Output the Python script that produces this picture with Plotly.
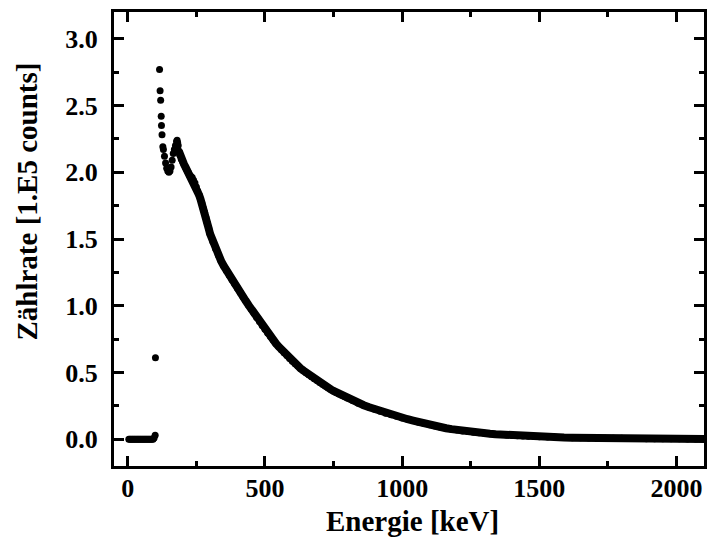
import plotly.graph_objects as go

# Energy [keV] and counting rate [1.E5 counts]
energy = [
    4, 8, 12, 16, 20, 24, 28, 32, 36, 40, 44, 48, 52, 56, 60, 64, 68, 72, 76, 80, 84, 88, 92, 96, 100, 101,
    116, 118, 120, 122, 123, 125, 128, 130, 134, 138, 142, 146, 150, 154, 158, 162, 166, 170, 174, 176, 178,
    180, 182, 184, 186, 190, 195, 200, 205, 210, 215, 220, 225, 230, 235, 240, 245, 250, 255, 260, 265, 270,
    275, 280, 285, 290, 295, 300, 310, 320, 330, 340, 350,
    360, 370, 380, 390, 400, 410, 420, 430, 440, 450, 460, 470, 480, 490, 500, 510, 520, 530, 540, 550,
    560, 570, 580, 590, 600, 610, 620, 630, 640, 650, 660, 670, 680, 690, 700, 710, 720, 730, 740, 750,
    760, 770, 780, 790, 800,
    820, 840, 860, 880, 900, 920, 940, 960, 980, 1000, 1020, 1040, 1060, 1080, 1100, 1120, 1140, 1160,
    1180, 1200, 1220, 1240, 1260, 1280, 1300, 1320, 1340, 1360, 1380, 1400, 1420, 1440, 1460, 1480, 1500,
    1530, 1560, 1590, 1620, 1650, 1680, 1710, 1740, 1770, 1800, 1830, 1860, 1890, 1920, 1950, 1980, 2010,
    2040, 2070, 2100,
]

rate = [
    0.0, 0.0, 0.0, 0.0, 0.0, 0.0, 0.0, 0.0, 0.0, 0.0, 0.0, 0.0, 0.0, 0.0, 0.0, 0.0, 0.0, 0.0, 0.0, 0.0,
    0.0, 0.0, 0.0, 0.01, 0.03, 0.61,
    2.77, 2.61, 2.54, 2.42, 2.35, 2.28, 2.19, 2.17, 2.12, 2.07, 2.03, 2.01, 2.00, 2.01, 2.04, 2.09, 2.14,
    2.17, 2.20, 2.19, 2.23, 2.24, 2.22, 2.20, 2.16, 2.13, 2.10, 2.08, 2.06, 2.04, 2.02, 2.00, 1.98, 1.97,
    1.96, 1.94, 1.92, 1.89, 1.86, 1.83, 1.80, 1.77, 1.73, 1.70, 1.66, 1.62, 1.58, 1.54, 1.482, 1.428,
    1.38, 1.337, 1.298,
    1.262, 1.228, 1.195, 1.163, 1.131, 1.099, 1.068, 1.037, 1.006, 0.975, 0.944, 0.913, 0.883, 0.853,
    0.824, 0.796, 0.769, 0.743, 0.718, 0.694, 0.671, 0.649, 0.628, 0.606, 0.585, 0.566, 0.548, 0.531,
    0.515, 0.499, 0.484, 0.469, 0.454, 0.440, 0.425, 0.412, 0.399, 0.386, 0.374, 0.362, 0.351, 0.340,
    0.330, 0.320, 0.310,
    0.29, 0.27, 0.255, 0.24, 0.225, 0.21, 0.195, 0.183, 0.172, 0.16, 0.15, 0.14, 0.128, 0.118, 0.108,
    0.099, 0.091, 0.083, 0.076, 0.069, 0.063, 0.058, 0.053, 0.049, 0.045, 0.041, 0.038, 0.035, 0.032,
    0.029, 0.027, 0.025, 0.023, 0.021, 0.019,
    0.017, 0.015, 0.013, 0.012, 0.011, 0.010, 0.009, 0.008, 0.007, 0.007, 0.006, 0.006, 0.005, 0.005,
    0.004, 0.004, 0.004, 0.003, 0.003, 0.003,
]

x_range = [-50, 2100]
y_range = [-0.2, 3.2]

x_title = "Energie [keV]"
y_title = "Zählrate [1.E5 counts]"

FONT = "Liberation Serif"

# index from which the measured points form a continuous dense band
BAND_START = energy.index(186)

fig = go.Figure()
fig.add_trace(
    go.Scatter(
        x=energy[BAND_START:], y=rate[BAND_START:], mode="lines",
        line=dict(color="black", width=8),
        showlegend=False, hoverinfo="skip",
    )
)
fig.add_trace(
    go.Scatter(
        x=energy, y=rate, mode="markers",
        marker=dict(color="black", size=7, line=dict(width=0)),
        showlegend=False, hoverinfo="skip",
    )
)

axis_common = dict(
    showline=True, linecolor="black", linewidth=3, mirror="allticks",
    ticks="inside", tickwidth=3, ticklen=10, tickcolor="black",
    showgrid=False, zeroline=False,
    tickfont=dict(family=FONT, size=26, color="black", weight="bold"),
)

fig.update_xaxes(
    range=x_range, tick0=0, dtick=500,
    minor=dict(ticks="inside", dtick=250, ticklen=5, tickwidth=3, tickcolor="black", showgrid=False),
    ticklabelstandoff=-3,
    **axis_common,
)
fig.update_yaxes(
    range=y_range, tick0=0, dtick=0.5, tickformat=".1f",
    minor=dict(ticks="inside", dtick=0.25, ticklen=5, tickwidth=3, tickcolor="black", showgrid=False),
    ticklabelstandoff=8,
    **axis_common,
)

fig.add_annotation(
    text=x_title, xref="paper", yref="paper", x=0.506, y=-0.121,
    xanchor="center", yanchor="middle", showarrow=False,
    font=dict(family=FONT, size=29, color="black", weight="bold"),
)
fig.add_annotation(
    text=y_title, xref="paper", yref="paper", x=-0.1474, y=0.5826,
    xanchor="center", yanchor="middle", showarrow=False, textangle=-90,
    font=dict(family=FONT, size=29, color="black", weight="bold"),
)

fig.update_layout(
    width=709, height=537,
    margin=dict(l=114, r=2, t=12, b=71),
    paper_bgcolor="white", plot_bgcolor="white",
)

fig.write_html(
    "out.html",
    config={"displayModeBar": False},
    post_script="document.body.style.margin='0px';",
)
